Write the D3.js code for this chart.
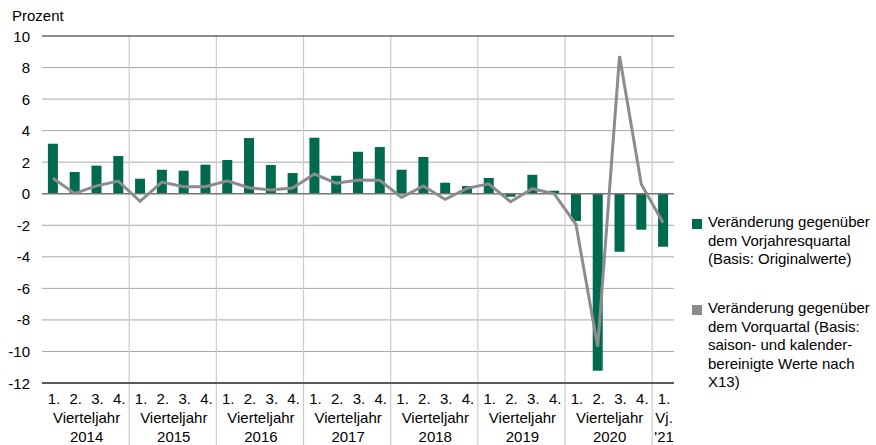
<!DOCTYPE html>
<html>
<head>
<meta charset="utf-8">
<script src="https://cdn.jsdelivr.net/npm/d3@7"></script>
<style>
  body { margin: 0; background: #fff; }
  svg { font-family: "Liberation Sans", Arial, sans-serif; }
</style>
</head>
<body>
<svg id="chart" width="876" height="445"></svg>
<script>
// Quartale 2014 bis 1. Vj. 2021
const years = ["2014", "2015", "2016", "2017", "2018", "2019", "2020", "'21"];
const quarterLabels = ["1.", "2.", "3.", "4."];

// Veränderung gegenüber dem Vorjahresquartal (Balken)
const yoyValues = [
  3.17, 1.38, 1.78, 2.39,
  0.95, 1.52, 1.46, 1.84,
  2.14, 3.53, 1.82, 1.31,
  3.55, 1.14, 2.66, 2.96,
  1.52, 2.33, 0.70, 0.49,
  1.00, -0.19, 1.20, 0.19,
  -1.73, -11.22, -3.68, -2.28,
  -3.36
];

// Veränderung gegenüber dem Vorquartal (Linie)
const qoqValues = [
  0.98, 0.02, 0.50, 0.80,
  -0.48, 0.74, 0.44, 0.45,
  0.82, 0.38, 0.23, 0.36,
  1.25, 0.66, 0.87, 0.85,
  -0.23, 0.49, -0.36, 0.34,
  0.63, -0.51, 0.32, 0.00,
  -1.94, -9.70, 8.73, 0.60,
  -1.84
];

const yTicks = [10, 8, 6, 4, 2, 0, -2, -4, -6, -8, -10, -12];

const legendItems = [
  { color: "#006a4e", lines: ["Veränderung gegenüber", "dem Vorjahresquartal", "(Basis: Originalwerte)"] },
  { color: "#8c8c8c", lines: ["Veränderung gegenüber", "dem Vorquartal (Basis:", "saison- und kalender-", "bereinigte Werte nach", "X13)"] }
];

const GREEN = "#006a4e";
const GREY = "#8c8c8c";
const FS = 15;

const svg = d3.select("#chart");
const plot = { left: 42, right: 674, top: 36, bottom: 383 };

const idx = d3.range(yoyValues.length);
const x = d3.scaleBand().domain(idx).range([plot.left, plot.right]).padding(0);
const y = d3.scaleLinear().domain([-12, 10]).range([plot.bottom, plot.top]);
const bw = x.bandwidth();
const barW = 10;

// horizontale Gitterlinien
svg.append("g")
  .selectAll("line")
  .data(yTicks.filter((d) => d !== 10 && d !== 0 && d !== -12))
  .join("line")
  .attr("x1", plot.left).attr("x2", plot.right)
  .attr("y1", (d) => y(d)).attr("y2", (d) => y(d))
  .attr("stroke", "#a8a8a8").attr("stroke-width", 1);

// vertikale Jahrestrenner
const yearBounds = d3.range(4, yoyValues.length, 4);
svg.append("g")
  .selectAll("line")
  .data(yearBounds)
  .join("line")
  .attr("x1", (d) => x(d)).attr("x2", (d) => x(d))
  .attr("y1", plot.top).attr("y2", 445)
  .attr("stroke", "#cccccc").attr("stroke-width", 1.2);

// Rahmenlinien
svg.append("line")
  .attr("x1", plot.left).attr("x2", plot.right)
  .attr("y1", y(10)).attr("y2", y(10))
  .attr("stroke", "#1a1a1a").attr("stroke-width", 1.2);
svg.append("line")
  .attr("x1", plot.left).attr("x2", plot.right)
  .attr("y1", y(-12)).attr("y2", y(-12))
  .attr("stroke", "#5a5a5a").attr("stroke-width", 1.8);

// Balken
svg.append("g")
  .selectAll("rect")
  .data(idx)
  .join("rect")
  .attr("x", (i) => x(i) + bw / 2 - barW / 2)
  .attr("width", barW)
  .attr("y", (i) => y(Math.max(0, yoyValues[i])))
  .attr("height", (i) => Math.abs(y(yoyValues[i]) - y(0)))
  .attr("fill", GREEN);

// Nulllinie
svg.append("line")
  .attr("x1", plot.left).attr("x2", plot.right)
  .attr("y1", y(0)).attr("y2", y(0))
  .attr("stroke", "#757575").attr("stroke-width", 1.6);

// Linie
const line = d3.line()
  .x((i) => x(i) + bw / 2)
  .y((i) => y(qoqValues[i]));
svg.append("path")
  .datum(idx)
  .attr("d", line)
  .attr("fill", "none")
  .attr("stroke", GREY)
  .attr("stroke-width", 3)
  .attr("stroke-linejoin", "miter");

// y-Achse
svg.append("g")
  .selectAll("text")
  .data(yTicks)
  .join("text")
  .attr("x", 30)
  .attr("y", (d) => y(d) + 5.5)
  .attr("text-anchor", "end")
  .attr("font-size", FS)
  .attr("fill", "#000")
  .text((d) => d);

svg.append("text")
  .attr("x", 12).attr("y", 21)
  .attr("font-size", FS)
  .text("Prozent");

// x-Achse: Quartale
svg.append("g")
  .selectAll("text")
  .data(idx)
  .join("text")
  .attr("x", (i) => x(i) + bw / 2 + 1)
  .attr("y", 404)
  .attr("text-anchor", "middle")
  .attr("font-size", FS)
  .text((i) => quarterLabels[i % 4]);

// x-Achse: Jahre
const yearGroups = years.map((yr, k) => {
  const first = k * 4;
  const last = Math.min(first + 3, yoyValues.length - 1);
  return { yr, cx: (x(first) + x(last) + bw) / 2, short: last === first };
});
const yg = svg.append("g")
  .selectAll("g")
  .data(yearGroups)
  .join("g");
yg.append("text")
  .attr("x", (d) => d.cx + 1)
  .attr("y", 423)
  .attr("text-anchor", "middle")
  .attr("font-size", FS)
  .text((d) => (d.short ? "Vj." : "Vierteljahr"));
yg.append("text")
  .attr("x", (d) => d.cx + 1)
  .attr("y", 442)
  .attr("text-anchor", "middle")
  .attr("font-size", FS)
  .text((d) => d.yr);

// Legende
const legendTop = [219, 305];
legendItems.forEach((item, k) => {
  const g = svg.append("g").attr("transform", `translate(692,${legendTop[k]})`);
  g.append("rect").attr("x", 0).attr("y", 0).attr("width", 10).attr("height", 10).attr("fill", item.color);
  g.selectAll("text")
    .data(item.lines)
    .join("text")
    .attr("x", 16)
    .attr("y", (d, j) => 8 + j * 18.6)
    .attr("font-size", FS)
    .text((d) => d);
});
</script>
</body>
</html>
